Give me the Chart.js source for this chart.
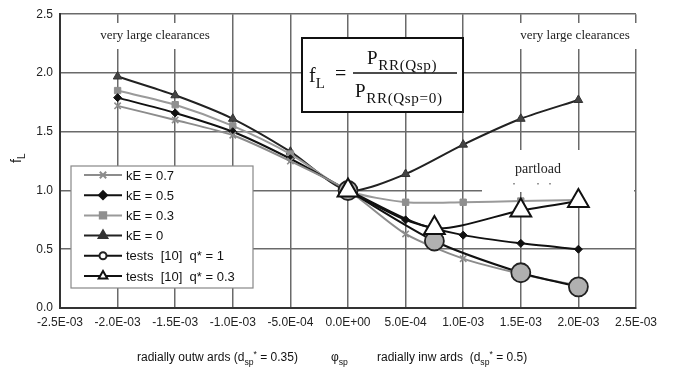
<!DOCTYPE html>
<html>
<head>
<meta charset="utf-8">
<script src="https://cdn.jsdelivr.net/npm/chart.js@4/dist/chart.umd.min.js"></script>
<style>
  html, body { margin: 0; padding: 0; background: #fff; }
  #wrap { width: 679px; height: 374px; }
</style>
</head>
<body>
<div id="wrap"><canvas id="chart"></canvas></div>
<script>
// values
const xKE = [-0.002, -0.0015, -0.001, -0.0005, 0, 0.0005, 0.001, 0.0015, 0.002];
const kE07 = [1.72, 1.60, 1.47, 1.25, 1.00, 0.63, 0.42, 0.29, 0.19];
const kE05 = [1.79, 1.66, 1.50, 1.27, 1.00, 0.75, 0.62, 0.55, 0.50];
const kE03 = [1.85, 1.73, 1.55, 1.31, 1.00, 0.90, 0.90, 0.91, 0.92];
const kE0  = [1.97, 1.81, 1.61, 1.33, 1.00, 1.14, 1.39, 1.61, 1.77];

const xTests = [0, 0.00075, 0.0015, 0.002];
const testsQ1  = [1.00, 0.57, 0.30, 0.18];
const testsQ03 = [1.00, 0.68, 0.83, 0.91];

const seriesLabels = ['kE = 0.7', 'kE = 0.5', 'kE = 0.3', 'kE = 0', 'tests  [10]  q* = 1', 'tests  [10]  q* = 0.3'];
const xTickLabels = ['-2.5E-03', '-2.0E-03', '-1.5E-03', '-1.0E-03', '-5.0E-04', '0.0E+00',
                     '5.0E-04', '1.0E-03', '1.5E-03', '2.0E-03', '2.5E-03'];

const SANS = 'Liberation Sans, Arial, sans-serif';
const SERIF = 'Liberation Serif, Times New Roman, serif';

const pts = (xs, ys) => xs.map((x, i) => ({ x: x, y: ys[i] }));

// draws text pieces with normal / sub / sup runs, returns end x
function drawRich(ctx, x, y, parts, size, family, subScale) {
    const k = subScale || 0.72;
    ctx.textBaseline = 'alphabetic';
    ctx.textAlign = 'left';
    parts.forEach(([txt, kind]) => {
        let s = size, dy = 0;
        if (kind === 'sub') { s = size * k; dy = size * 0.3; }
        if (kind === 'sup') { s = size * k; dy = -size * 0.35; }
        ctx.font = s + 'px ' + family;
        ctx.fillText(txt, x, y + dy);
        x += ctx.measureText(txt).width;
    });
    return x;
}

const overlays = {
    id: 'overlays',
    beforeDatasetsDraw(chart) {
        const ctx = chart.ctx;
        ctx.save();
        // white label boxes that hide the grid
        ctx.fillStyle = '#fff';
        ctx.fillRect(90, 23, 132, 26);
        ctx.fillRect(508, 23, 134, 26);
        ctx.fillRect(482, 150, 152, 42);

        ctx.fillStyle = '#222';
        ctx.font = '13px ' + SERIF;
        ctx.textAlign = 'center';
        ctx.textBaseline = 'middle';
        ctx.fillText('very large clearances', 155, 36);
        ctx.fillText('very large clearances', 575, 36);
        ctx.font = '14px ' + SERIF;
        ctx.fillText('partload', 538, 169);
        ctx.fillStyle = '#999';
        [513, 537, 549].forEach(x => ctx.fillRect(x, 183, 2, 1.5));

        // formula box
        ctx.fillStyle = '#fff';
        ctx.fillRect(302, 38, 161, 74);
        ctx.strokeStyle = '#111';
        ctx.lineWidth = 2;
        ctx.strokeRect(302, 38, 161, 74);
        ctx.fillStyle = '#111';
        drawRich(ctx, 309, 82, [['f', 'n'], ['L', 'sub']], 20, SERIF, 0.75);
        ctx.font = '20px ' + SERIF;
        ctx.fillText('=', 335, 80);
        ctx.beginPath();
        ctx.moveTo(353, 73);
        ctx.lineTo(457, 73);
        ctx.lineWidth = 1.3;
        ctx.stroke();
        ctx.letterSpacing = '0.6px';
        drawRich(ctx, 367, 64, [['P', 'n'], ['RR(Qsp)', 'sub']], 19, SERIF, 0.8);
        drawRich(ctx, 355, 97, [['P', 'n'], ['RR(Qsp=0)', 'sub']], 19, SERIF, 0.8);
        ctx.letterSpacing = '0px';
        ctx.restore();
    },
    afterDraw(chart) {
        const ctx = chart.ctx;
        ctx.save();
        // legend
        ctx.fillStyle = '#fff';
        ctx.fillRect(71, 166, 182, 122);
        ctx.strokeStyle = '#888';
        ctx.lineWidth = 1.2;
        ctx.strokeRect(71, 166, 182, 122);
        chart.data.datasets.forEach((ds, i) => {
            const y = 175 + i * 20.2;
            ctx.strokeStyle = ds.borderColor;
            ctx.lineWidth = ds.borderWidth;
            ctx.beginPath();
            ctx.moveTo(84, y);
            ctx.lineTo(122, y);
            ctx.stroke();
            ctx.fillStyle = ds.legendFill;
            ctx.strokeStyle = ds.pointBorderColor;
            Chart.helpers.drawPoint(ctx, {
                pointStyle: ds.pointStyle, radius: ds.legendRadius, rotation: 0, borderWidth: 1.5
            }, 103, y);
            ctx.fillStyle = '#111';
            ctx.font = '13px ' + SANS;
            ctx.textAlign = 'left';
            ctx.textBaseline = 'middle';
            ctx.fillText(ds.label, 126, y + 1);
        });

        // y axis title f_L
        ctx.fillStyle = '#222';
        ctx.translate(21, 163);
        ctx.rotate(-Math.PI / 2);
        drawRich(ctx, 0, 0, [['f', 'n'], ['L', 'sub']], 14, SANS);
        ctx.setTransform(1, 0, 0, 1, 0, 0);

        // x axis title
        ctx.fillStyle = '#111';
        drawRich(ctx, 137, 361, [['radially outw ards (d', 'n'], ['sp', 'sub'], ['*', 'sup'], [' = 0.35)', 'n']], 12, SANS);
        drawRich(ctx, 331, 361, [['φ', 'n'], ['sp', 'sub']], 12, SANS);
        drawRich(ctx, 377, 361, [['radially inw ards  (d', 'n'], ['sp', 'sub'], ['*', 'sup'], [' = 0.5)', 'n']], 12, SANS);
        ctx.restore();
    }
};

const datasets = [
    { label: seriesLabels[0], data: pts(xKE, kE07), borderColor: '#8c8c8c', borderWidth: 2,
      pointStyle: 'crossRot', pointRadius: 4.5, pointBorderWidth: 1.6, pointBorderColor: '#8c8c8c',
      pointBackgroundColor: '#8c8c8c', legendFill: '#8c8c8c', legendRadius: 4.5, order: 2 },
    { label: seriesLabels[1], data: pts(xKE, kE05), borderColor: '#111', borderWidth: 2,
      pointStyle: 'rectRot', pointRadius: 4, pointBorderWidth: 1, pointBorderColor: '#111',
      pointBackgroundColor: '#111', legendFill: '#111', legendRadius: 4, order: 2 },
    { label: seriesLabels[2], data: pts(xKE, kE03), borderColor: '#9a9a9a', borderWidth: 2,
      pointStyle: 'rect', pointRadius: 4.5, pointBorderWidth: 1, pointBorderColor: '#8f8f8f',
      pointBackgroundColor: '#8f8f8f', legendFill: '#8f8f8f', legendRadius: 4.5, order: 2 },
    { label: seriesLabels[3], data: pts(xKE, kE0), borderColor: '#222', borderWidth: 2,
      pointStyle: 'triangle', pointRadius: 5, pointBorderWidth: 1, pointBorderColor: '#333',
      pointBackgroundColor: '#444', legendFill: '#333', legendRadius: 5, order: 2 },
    { label: seriesLabels[4], data: pts(xTests, testsQ1), borderColor: '#111', borderWidth: 2,
      pointStyle: 'circle', pointRadius: 9.5, pointBorderWidth: 1.8, pointBorderColor: '#222',
      pointBackgroundColor: '#b0b0b0', legendFill: '#fff', legendRadius: 3.5, order: 1 },
    { label: seriesLabels[5], data: pts(xTests, testsQ03), borderColor: '#111', borderWidth: 2,
      pointStyle: 'triangle', pointRadius: 12, pointBorderWidth: 2, pointBorderColor: '#111',
      pointBackgroundColor: '#fff', legendFill: '#fff', legendRadius: 5, order: 0 }
];

new Chart(document.getElementById('chart'), {
    type: 'line',
    data: { datasets: datasets },
    options: {
        responsive: true,
        maintainAspectRatio: false,
        animation: false,
        events: [],
        layout: { padding: { top: 10, right: 43, left: 0, bottom: 0 } },
        elements: { line: { tension: 0.25, fill: false } },
        plugins: { legend: { display: false }, tooltip: { enabled: false } },
        scales: {
            x: {
                type: 'linear', min: -0.0025, max: 0.0025,
                ticks: {
                    stepSize: 0.0005, autoSkip: false, maxRotation: 0, padding: 7,
                    callback: (v, i) => xTickLabels[i],
                    font: { family: SANS, size: 12 }, color: '#222'
                },
                grid: { color: '#6a6a6a', lineWidth: 1.5, drawTicks: false },
                border: { color: '#333', width: 2 },
                afterFit: s => { s.height = 66; }
            },
            y: {
                min: 0, max: 2.5,
                ticks: {
                    stepSize: 0.5, padding: 7,
                    callback: v => v.toFixed(1),
                    font: { family: SANS, size: 12 }, color: '#222'
                },
                grid: { color: '#6a6a6a', lineWidth: 1.5, drawTicks: false },
                border: { color: '#333', width: 2 },
                afterFit: s => { s.width = 60; }
            }
        }
    },
    plugins: [overlays]
});
</script>
</body>
</html>
